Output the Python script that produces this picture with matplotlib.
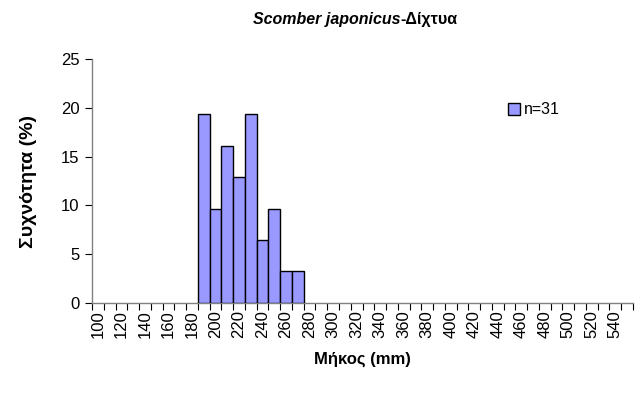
import matplotlib
matplotlib.use('Agg')
import matplotlib.pyplot as plt
from matplotlib.patches import Patch

plt.rcParams['font.family'] = ['Liberation Sans', 'DejaVu Sans']

# length classes (mm), 10 mm wide, shown on a category axis
categories = list(range(100, 560, 10))
bin_starts = [190, 200, 210, 220, 230, 240, 250, 260, 270]
freq_pct = [19.35, 9.68, 16.13, 12.90, 19.35, 6.45, 9.68, 3.23, 3.23]
tick_labels = ['100', '120', '140', '160', '180', '200', '220', '240', '260', '280',
               '300', '320', '340', '360', '380', '400', '420', '440', '460', '480',
               '500', '520', '540']
n_total = 31

fig = plt.figure(figsize=(6.41, 4.01), dpi=100)
ax = fig.add_axes([92 / 641, 98 / 401, 541 / 641, 244 / 401])

idx = [categories.index(b) for b in bin_starts]
ax.bar(idx, freq_pct, width=1.0, align='edge', color='#9999ff',
       edgecolor='black', linewidth=1.0, zorder=3)

ax.set_xlim(0, len(categories))
ax.set_ylim(0, 25)
ax.set_yticks([0, 5, 10, 15, 20, 25])
ax.set_xticks(range(len(categories) + 1), minor=True)
ax.set_xticks([i + 0.5 for i in range(0, len(categories), 2)])
ax.set_xticklabels(tick_labels, rotation=90)
ax.tick_params(axis='x', which='major', length=0, pad=5, labelsize=12)
ax.tick_params(axis='x', which='minor', length=5, width=0.8, color='black')
ax.tick_params(axis='y', length=5, width=0.8, labelsize=12, pad=4)

for s in ['top', 'right']:
    ax.spines[s].set_visible(False)
for s in ['left', 'bottom']:
    ax.spines[s].set_color('#808080')
    ax.spines[s].set_linewidth(1.0)

ax.set_xlabel('Μήκος (mm)', fontsize=12, fontweight='bold', labelpad=10)
ax.set_ylabel('Συχνότητα (%)', fontsize=14, fontweight='bold', labelpad=17)

leg = ax.legend(handles=[Patch(facecolor='#9999ff', edgecolor='black', label='n=%d' % n_total)],
                loc='center left', bbox_to_anchor=(494 / 641, 1 - 110 / 401),
                bbox_transform=fig.transFigure, frameon=False, fontsize=11.5,
                handlelength=0.7, handleheight=0.7, handletextpad=0.3)

# title: italic species name + upright suffix, centred together
fig.canvas.draw()
r = fig.canvas.get_renderer()
t1 = fig.text(0, 0, 'Scomber japonicus', fontsize=11.5, fontweight='bold', fontstyle='italic')
t2 = fig.text(0, 0, '-Δίχτυα', fontsize=11.5, fontweight='bold')
w1 = t1.get_window_extent(r).width
w2 = t2.get_window_extent(r).width
cx = 355
x0 = cx - (w1 + w2) / 2
ty = 1 - 24 / 401
t1.set_position((x0 / 641, ty))
t2.set_position(((x0 + w1) / 641, ty))

fig.savefig('out.png', dpi=100)
